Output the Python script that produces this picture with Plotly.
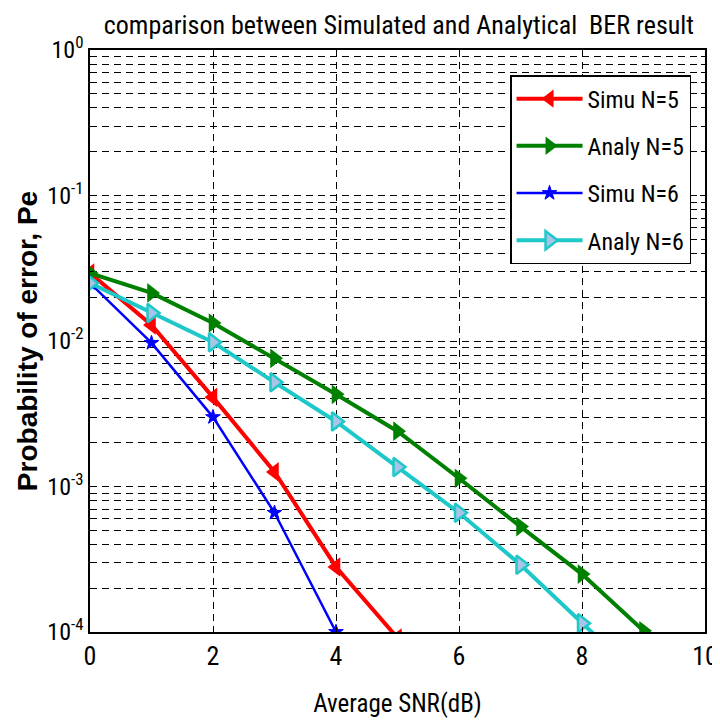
import plotly.graph_objects as go

simu_n5_x = [0, 1, 2, 3, 4, 5]
simu_n5 = [0.0293, 0.0129, 0.0041, 0.00126, 0.00028, 0.000091]

analy_n5_x = [0, 1, 2, 3, 4, 5, 6, 7, 8, 9]
analy_n5 = [0.0293, 0.0214, 0.0133, 0.0076, 0.0043, 0.0024, 0.00114, 0.00053, 0.00025, 0.000102]

simu_n6_x = [0, 1, 2, 3, 4]
simu_n6 = [0.025, 0.0097, 0.0030, 0.00066, 0.0001]

analy_n6_x = [0, 1, 2, 3, 4, 5, 6, 7, 8, 9]
analy_n6 = [0.025, 0.0156, 0.0098, 0.0052, 0.0028, 0.00136, 0.00066, 0.00029, 0.000115, 0.000046]

x_ticks = [0, 2, 4, 6, 8, 10]
y_decades = [-4, -3, -2, -1, 0]

title_text = "comparison between Simulated and Analytical  BER result"
x_title = "Average SNR(dB)"
y_title = "Probability of error, Pe"

NARROW = "Liberation Sans Narrow, Arial Narrow, Roboto Condensed, Liberation Sans, sans-serif"
DASH = "7px,5px"

major_y = [10 ** d for d in y_decades]
major_y_text = ["10<sup>%d</sup>" % d for d in y_decades]
minor_y = [m * 10 ** d for d in y_decades[:-1] for m in range(2, 10)]

fig = go.Figure()

fig.add_trace(go.Scatter(
    x=simu_n5_x, y=simu_n5, name="Simu N=5", mode="lines+markers",
    line=dict(color="#ff0000", width=4),
    marker=dict(symbol="triangle-left", size=17, color="#ff0000"),
    legendgroup="a"))
fig.add_trace(go.Scatter(
    x=analy_n5_x, y=analy_n5, name="Analy N=5", mode="lines+markers",
    line=dict(color="#008000", width=4),
    marker=dict(symbol="triangle-right", size=17, color="#008000"),
    legendgroup="b"))
fig.add_trace(go.Scatter(
    x=simu_n6_x, y=simu_n6, name="Simu N=6", mode="lines+markers",
    line=dict(color="#0000ff", width=2.5),
    marker=dict(symbol="star", size=11, color="#0000ff", line=dict(color="#0000ff", width=1)),
    legendgroup="c"))
fig.add_trace(go.Scatter(
    x=analy_n6_x, y=analy_n6, name="Analy N=6", mode="lines+markers",
    line=dict(color="#1ec8c8", width=4),
    marker=dict(symbol="triangle-right", size=16, color="#a9c4e6",
                line=dict(color="#1ec8c8", width=2.5)),
    legendgroup="d"))

fig.update_layout(
    width=712, height=712,
    margin=dict(l=82, r=15, t=42, b=88),
    paper_bgcolor="white", plot_bgcolor="white",
    title=dict(text=title_text, x=0.549, xanchor="center", y=0.976, yanchor="middle",
               font=dict(family=NARROW, size=26, color="black"), automargin=False),
    showlegend=True,
    legend=dict(x=0.683, y=0.957, xanchor="left", yanchor="top",
                bgcolor="white", bordercolor="black", borderwidth=1.5,
                font=dict(family=NARROW, size=24, color="black"),
                tracegroupgap=13, traceorder="grouped", itemwidth=66),
)

fig.update_xaxes(
    range=[0, 10], tickvals=x_ticks, ticktext=[str(v) for v in x_ticks],
    showgrid=True, gridcolor="black", griddash=DASH, gridwidth=1.2,
    showline=True, linecolor="black", linewidth=1.5, mirror="allticks",
    ticks="inside", ticklen=5, tickcolor="black", zeroline=False,
    tickfont=dict(family=NARROW, size=26, color="black"),
    title=dict(text=x_title, font=dict(family=NARROW, size=25, color="black"), standoff=25),
    automargin=False,
)
fig.update_yaxes(
    type="log", range=[-4, 0], tickvals=major_y, ticktext=major_y_text,
    showgrid=True, gridcolor="black", griddash=DASH, gridwidth=1.2,
    showline=True, linecolor="black", linewidth=1.5, mirror="allticks",
    ticks="inside", ticklen=5, tickcolor="black", zeroline=False,
    tickfont=dict(family=NARROW, size=24, color="black"),
    minor=dict(tickmode="array", tickvals=minor_y, showgrid=True, gridcolor="black",
               griddash=DASH, gridwidth=1.2, ticks="inside", ticklen=4, tickcolor="black"),
    title=dict(text="<b>" + y_title + "</b>",
               font=dict(family="Liberation Sans, Arial, sans-serif", size=28, color="black"),
               standoff=1),
    automargin=False,
)

fig.write_html("out.html")
